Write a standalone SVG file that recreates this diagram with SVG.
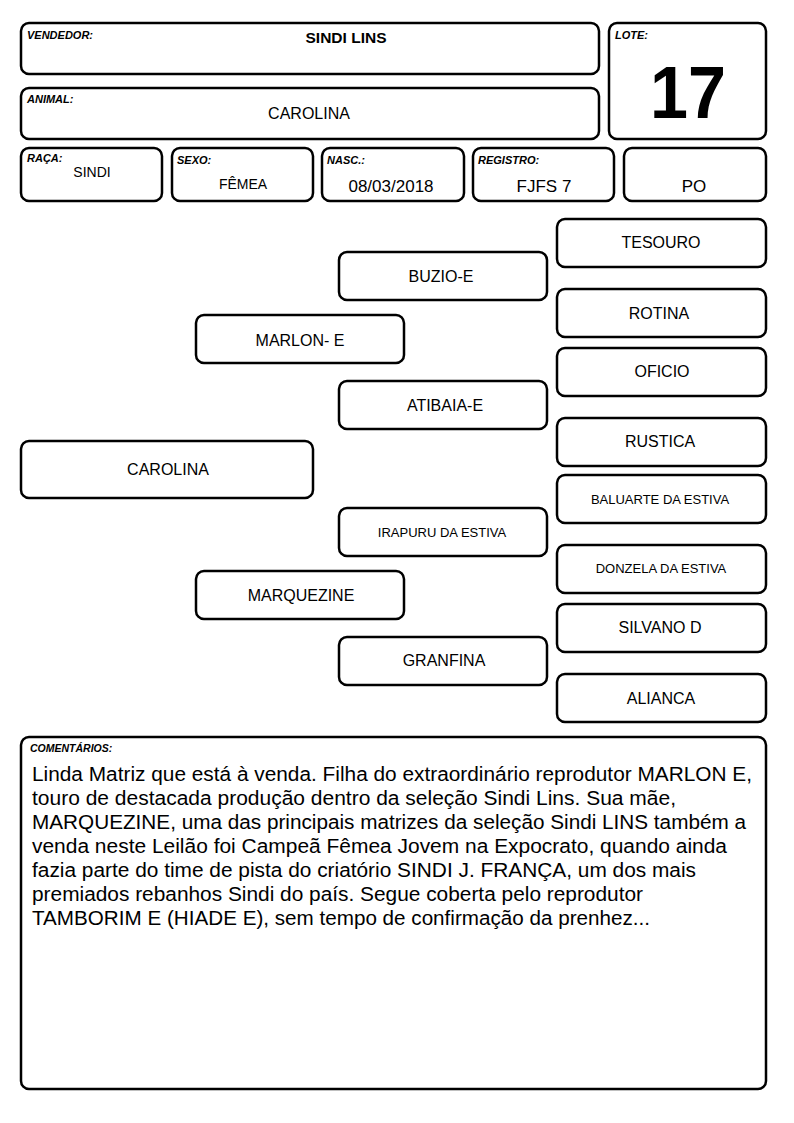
<svg xmlns="http://www.w3.org/2000/svg" width="794" height="1123" viewBox="0 0 794 1123">
<style>
rect{fill:#fff;stroke:#000;stroke-width:2.5}
text{font-family:"Liberation Sans",Arial,sans-serif;fill:#000}
.lb{font-size:11px;font-weight:bold;font-style:italic}
.v{font-size:16px;text-anchor:middle}
.s{font-size:13px;text-anchor:middle}
.c{font-size:20px}
</style>
<rect width="794" height="1123" style="fill:#fff;stroke:none"/>
<g id="vendedor"><rect x="21" y="23" width="578" height="51" rx="8"/><text class="lb" x="27" y="39">VENDEDOR:</text><text x="346" y="43" style="font-size:15.5px;font-weight:bold;text-anchor:middle">SINDI LINS</text></g>
<g id="animal"><rect x="21" y="88" width="578" height="51" rx="8"/><text class="lb" x="27" y="103">ANIMAL:</text><text class="v" x="309" y="119">CAROLINA</text></g>
<g id="lote"><rect x="609" y="23" width="157" height="116" rx="8"/><text class="lb" x="615" y="39">LOTE:</text><text x="688" y="118" textLength="76" lengthAdjust="spacingAndGlyphs" style="font-size:74px;font-weight:bold;text-anchor:middle">17</text></g>
<g id="raca"><rect x="21" y="148" width="141" height="53" rx="8"/><text class="lb" x="27" y="162">RAÇA:</text><text class="s" x="92" y="177" style="font-size:14px">SINDI</text></g>
<g id="sexo"><rect x="172" y="148" width="141" height="53" rx="8"/><text class="lb" x="177" y="164">SEXO:</text><text class="s" x="243" y="189" style="font-size:14px">FÊMEA</text></g>
<g id="nasc"><rect x="322" y="148" width="142" height="53" rx="8"/><text class="lb" x="327" y="164">NASC.:</text><text class="v" x="391" y="192" style="font-size:17px">08/03/2018</text></g>
<g id="registro"><rect x="473" y="148" width="141" height="53" rx="8"/><text class="lb" x="478" y="164">REGISTRO:</text><text class="v" x="544" y="192" style="font-size:17px">FJFS 7</text></g>
<g id="po"><rect x="624" y="148" width="142" height="53" rx="8"/><text class="v" x="694" y="192" style="font-size:17px">PO</text></g>
<g id="tesouro"><rect x="557" y="219" width="209" height="48" rx="8"/><text class="v" x="661" y="248">TESOURO</text></g>
<g id="buzio"><rect x="339" y="252" width="208" height="48" rx="8"/><text class="v" x="441" y="282">BUZIO-E</text></g>
<g id="rotina"><rect x="557" y="289" width="209" height="48" rx="8"/><text class="v" x="659" y="319">ROTINA</text></g>
<g id="marlon"><rect x="196" y="315" width="208" height="48" rx="8"/><text class="v" x="300" y="346">MARLON- E</text></g>
<g id="oficio"><rect x="557" y="348" width="209" height="48" rx="8"/><text class="v" x="662" y="377">OFICIO</text></g>
<g id="atibaia"><rect x="339" y="381" width="208" height="48" rx="8"/><text class="v" x="445" y="411">ATIBAIA-E</text></g>
<g id="rustica"><rect x="557" y="418" width="209" height="48" rx="8"/><text class="v" x="660" y="447">RUSTICA</text></g>
<g id="carolina"><rect x="21" y="441" width="292" height="57" rx="8"/><text class="v" x="168" y="475">CAROLINA</text></g>
<g id="baluarte"><rect x="557" y="475" width="209" height="48" rx="8"/><text class="s" x="660" y="504">BALUARTE DA ESTIVA</text></g>
<g id="irapuru"><rect x="339" y="508" width="208" height="48" rx="8"/><text class="s" x="442" y="537">IRAPURU DA ESTIVA</text></g>
<g id="donzela"><rect x="557" y="545" width="209" height="48" rx="8"/><text class="s" x="661" y="573">DONZELA DA ESTIVA</text></g>
<g id="marquezine"><rect x="196" y="571" width="208" height="48" rx="8"/><text class="v" x="301" y="601">MARQUEZINE</text></g>
<g id="silvano"><rect x="557" y="604" width="209" height="48" rx="8"/><text class="v" x="660" y="633">SILVANO D</text></g>
<g id="granfina"><rect x="339" y="637" width="208" height="48" rx="8"/><text class="v" x="444" y="666">GRANFINA</text></g>
<g id="alianca"><rect x="557" y="674" width="209" height="48" rx="8"/><text class="v" x="661" y="704">ALIANCA</text></g>
<g id="comentarios"><rect x="21" y="737" width="745" height="352" rx="8"/><text class="lb" x="30" y="752" style="font-size:10.5px">COMENTÁRIOS:</text>
<text class="c" x="32" y="781" textLength="720" lengthAdjust="spacingAndGlyphs">Linda Matriz que está à venda. Filha do extraordinário reprodutor MARLON E,</text>
<text class="c" x="32" y="805" textLength="644" lengthAdjust="spacingAndGlyphs">touro de destacada produção dentro da seleção Sindi Lins. Sua mãe,</text>
<text class="c" x="32" y="829" textLength="714" lengthAdjust="spacingAndGlyphs">MARQUEZINE, uma das principais matrizes da seleção Sindi LINS também a</text>
<text class="c" x="32" y="853" textLength="695" lengthAdjust="spacingAndGlyphs">venda neste Leilão foi Campeã Fêmea Jovem na Expocrato, quando ainda</text>
<text class="c" x="32" y="877" textLength="664" lengthAdjust="spacingAndGlyphs">fazia parte do time de pista do criatório SINDI J. FRANÇA, um dos mais</text>
<text class="c" x="32" y="901" textLength="611" lengthAdjust="spacingAndGlyphs">premiados rebanhos Sindi do país. Segue coberta pelo reprodutor</text>
<text class="c" x="32" y="925" textLength="618" lengthAdjust="spacingAndGlyphs">TAMBORIM E (HIADE E), sem tempo de confirmação da prenhez...</text>
</g>
<g id="connectors"></g>
</svg>
